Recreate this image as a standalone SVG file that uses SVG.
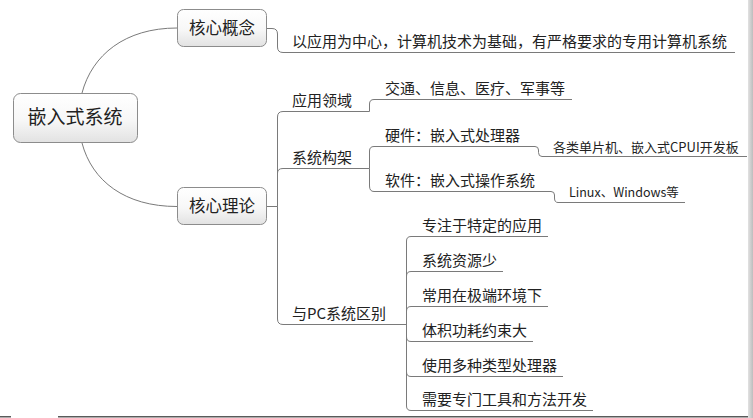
<svg xmlns="http://www.w3.org/2000/svg" width="753" height="418" viewBox="0 0 753 418">
<defs>
<linearGradient id="nodeFill" x1="0" y1="0" x2="0" y2="1">
<stop offset="0" stop-color="#ffffff"/>
<stop offset="0.55" stop-color="#f7f7f7"/>
<stop offset="1" stop-color="#e2e2e2"/>
</linearGradient>
<linearGradient id="sb" x1="0" y1="0" x2="1" y2="0">
<stop offset="0" stop-color="#e2e2e2"/>
<stop offset="1" stop-color="#bdbdbd"/>
</linearGradient>
<style>
.node{fill:url(#nodeFill);stroke:#8c8c8c;stroke-width:1}
.line{fill:none;stroke:#7a7a7a;stroke-width:1}
.t{font-family:"Noto Sans CJK SC","Liberation Sans",sans-serif;fill:#222222}
.big{font-size:19px}
.mid{font-size:16.5px}
.sub{font-size:15px}
.small{font-size:13px}
.small2{font-size:12.5px}
</style>
</defs>
<rect width="753" height="418" fill="#ffffff"/>
<rect x="748" y="0" width="5" height="418" fill="url(#sb)"/>
<rect x="0" y="416" width="11" height="1.5" fill="#5a5a5a"/>
<rect x="58" y="416" width="690" height="1.5" fill="#5a5a5a"/>

<g id="connectors">
<path class="line" d="M82,93 C92,55 125,28 177,28"/>
<path class="line" d="M82,143 C92,181 125,206.5 177,206.5"/>
<path class="line" d="M267,28.5 H272 Q277.5,28.5 277.5,34 V47 Q277.5,52.5 283,52.5 H735"/>
<path class="line" d="M267,206.5 H277.5 V117 Q277.5,111.5 283,111.5 H369.5"/>
<path class="line" d="M277.5,206.5 V173 Q277.5,168.5 283,168.5 H369.5"/>
<path class="line" d="M277.5,206.5 V319 Q277.5,324.5 283,324.5 H406.5"/>
<path class="line" d="M369.5,111.5 V104 Q369.5,99.5 374,99.5 H572"/>
<path class="line" d="M369.5,168.5 V151 Q369.5,146.5 374,146.5 H535 Q538.5,146.5 538.5,150 V152.5 Q538.5,156.5 542,156.5 H747"/>
<path class="line" d="M369.5,168.5 V186 Q369.5,191.5 374,191.5 H551 Q554.5,191.5 554.5,195 V198 Q554.5,202.5 558,202.5 H685"/>
<path class="line" d="M406.5,324.5 V241 Q406.5,236.5 411,236.5 H548"/>
<path class="line" d="M406.5,324.5 V276 Q406.5,271.5 411,271.5 H503"/>
<path class="line" d="M406.5,324.5 V311 Q406.5,306.5 411,306.5 H548"/>
<path class="line" d="M406.5,324.5 V337 Q406.5,341.5 411,341.5 H533"/>
<path class="line" d="M406.5,324.5 V372 Q406.5,376.5 411,376.5 H563"/>
<path class="line" d="M406.5,324.5 V406 Q406.5,410.5 411,410.5 H593"/>
</g>

<g id="root">
<rect class="node" x="13.5" y="93.5" width="124" height="49" rx="7"/>
<text class="t big" x="75" y="124" text-anchor="middle">嵌入式系统</text>
</g>
<g id="core-concept">
<rect class="node" x="177.5" y="9.5" width="89" height="37" rx="6"/>
<text class="t mid" x="222" y="34" text-anchor="middle">核心概念</text>
</g>
<g id="core-theory">
<rect class="node" x="177.5" y="187.5" width="89" height="37" rx="6"/>
<text class="t mid" x="222" y="212" text-anchor="middle">核心理论</text>
</g>
<g id="definition">
<text class="t sub" x="292" y="47">以应用为中心，计算机技术为基础，有严格要求的专用计算机系统</text>
</g>
<g id="app-field">
<text class="t sub" x="292" y="106">应用领域</text>
</g>
<g id="app-examples">
<text class="t sub" x="385" y="94">交通、信息、医疗、军事等</text>
</g>
<g id="arch">
<text class="t sub" x="292" y="163">系统构架</text>
</g>
<g id="hardware">
<text class="t sub" x="385" y="141">硬件：嵌入式处理器</text>
</g>
<g id="hardware-examples">
<text class="t small" x="553" y="152">各类单片机、嵌入式CPUI开发板</text>
</g>
<g id="software">
<text class="t sub" x="385" y="186">软件：嵌入式操作系统</text>
</g>
<g id="software-examples">
<text class="t small2" x="569" y="197">Linux、Windows等</text>
</g>
<g id="pc-diff">
<text class="t sub" x="292" y="319">与PC系统区别</text>
</g>
<g id="diff1"><text class="t sub" x="422" y="231">专注于特定的应用</text></g>
<g id="diff2"><text class="t sub" x="422" y="266">系统资源少</text></g>
<g id="diff3"><text class="t sub" x="422" y="301">常用在极端环境下</text></g>
<g id="diff4"><text class="t sub" x="422" y="336">体积功耗约束大</text></g>
<g id="diff5"><text class="t sub" x="422" y="371">使用多种类型处理器</text></g>
<g id="diff6"><text class="t sub" x="422" y="405">需要专门工具和方法开发</text></g>
</svg>
